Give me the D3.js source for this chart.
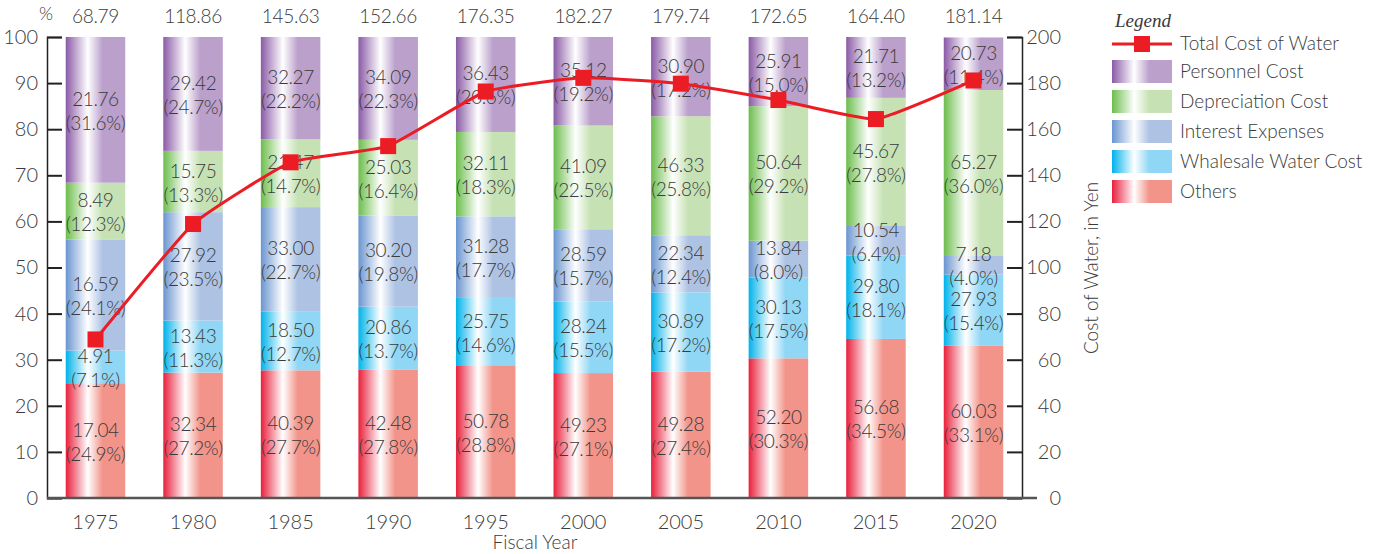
<!DOCTYPE html>
<html>
<head>
<meta charset="utf-8">
<script src="https://cdn.jsdelivr.net/npm/d3@7"></script>
<style>
  body { margin: 0; background: #fff; }
  text { font-family: Lato, "Open Sans", sans-serif; font-weight: 300; fill: #3a3a3a; }
</style>
</head>
<body>
<div id="chart"></div>
<script>
// datos del grafico
var years = ["1975", "1980", "1985", "1990", "1995", "2000", "2005", "2010", "2015", "2020"];
var totalCost = [68.79, 118.86, 145.63, 152.66, 176.35, 182.27, 179.74, 172.65, 164.40, 181.14];
var seriesNames = ["Others", "Whalesale Water Cost", "Interest Expenses", "Depreciation Cost", "Personnel Cost"];
// valores en yen por serie (de abajo hacia arriba)
var othersVal = [17.04, 32.34, 40.39, 42.48, 50.78, 49.23, 49.28, 52.20, 56.68, 60.03];
var wholesaleVal = [4.91, 13.43, 18.50, 20.86, 25.75, 28.24, 30.89, 30.13, 29.80, 27.93];
var interestVal = [16.59, 27.92, 33.00, 30.20, 31.28, 28.59, 22.34, 13.84, 10.54, 7.18];
var deprecVal = [8.49, 15.75, 21.47, 25.03, 32.11, 41.09, 46.33, 50.64, 45.67, 65.27];
var personnelVal = [21.76, 29.42, 32.27, 34.09, 36.43, 35.12, 30.90, 25.91, 21.71, 20.73];
// porcentajes por serie
var othersPct = [24.9, 27.2, 27.7, 27.8, 28.8, 27.1, 27.4, 30.3, 34.5, 33.1];
var wholesalePct = [7.1, 11.3, 12.7, 13.7, 14.6, 15.5, 17.2, 17.5, 18.1, 15.4];
var interestPct = [24.1, 23.5, 22.7, 19.8, 17.7, 15.7, 12.4, 8.0, 6.4, 4.0];
var deprecPct = [12.3, 13.3, 14.7, 16.4, 18.3, 22.5, 25.8, 29.2, 27.8, 36.0];
var personnelPct = [31.6, 24.7, 22.2, 22.3, 20.6, 19.2, 17.2, 15.0, 13.2, 11.4];
var leftTicks = [0, 10, 20, 30, 40, 50, 60, 70, 80, 90, 100];
var rightTicks = [0, 20, 40, 60, 80, 100, 120, 140, 160, 180, 200];

var valores = [othersVal, wholesaleVal, interestVal, deprecVal, personnelVal];
var porcentajes = [othersPct, wholesalePct, interestPct, deprecPct, personnelPct];
var coloresOscuros = ["#e8203b", "#00b2ea", "#6a95d0", "#6cbd4c", "#8a5aa6"];
var coloresClaros = ["#f2948a", "#90d7f5", "#aec3e4", "#c6e2b4", "#bba0cc"];

var width = 1377, height = 554;
var svg = d3.select("#chart").append("svg")
    .attr("width", width)
    .attr("height", height);

// gradientes horizontales
var defs = svg.append("defs");
seriesNames.forEach(function(n, i) {
    var g = defs.append("linearGradient")
        .attr("id", "grad" + i)
        .attr("x1", "0").attr("x2", "1").attr("y1", "0").attr("y2", "0");
    g.append("stop").attr("offset", "0").attr("stop-color", coloresOscuros[i]);
    g.append("stop").attr("offset", "0.37").attr("stop-color", "#ffffff");
    g.append("stop").attr("offset", "0.62").attr("stop-color", coloresClaros[i]);
    g.append("stop").attr("offset", "1").attr("stop-color", coloresClaros[i]);
});

// escalas
var x = d3.scaleBand()
    .domain(years)
    .range([47, 1022])
    .paddingInner(0.39)
    .paddingOuter(0.192);

var yPct = d3.scaleLinear().domain([0, 100]).range([498, 37]);
var yYen = d3.scaleLinear().domain([0, 200]).range([498, 37]);

// pila de datos
var filas = years.map(function(y, j) {
    var acc = 0;
    return seriesNames.map(function(n, i) {
        var seg = { year: y, serie: i, y0: acc, y1: acc + porcentajes[i][j], val: valores[i][j], pct: porcentajes[i][j] };
        acc += porcentajes[i][j];
        return seg;
    });
});
var segmentos = [].concat.apply([], filas);

// barras
svg.selectAll("rect.seg").data(segmentos).enter()
    .append("rect")
    .attr("class", "seg")
    .attr("x", d => x(d.year))
    .attr("width", x.bandwidth())
    .attr("y", d => yPct(Math.min(d.y1, 100)))
    .attr("height", d => yPct(d.y0) - yPct(Math.min(d.y1, 100)))
    .attr("fill", d => "url(#grad" + d.serie + ")");

// etiquetas de segmento
var etiquetas = svg.selectAll("g.lbl").data(segmentos).enter()
    .append("g")
    .attr("class", "lbl")
    .attr("transform", d => "translate(" + (x(d.year) + x.bandwidth() / 2) + "," + yPct((d.y0 + d.y1) / 2) + ")");
etiquetas.append("text")
    .attr("text-anchor", "middle")
    .attr("y", -4)
    .style("font-size", "19px")
    .style("letter-spacing", "-0.4px")
    .text(d => d.val.toFixed(2));
etiquetas.append("text")
    .attr("text-anchor", "middle")
    .attr("y", 20)
    .style("font-size", "19px")
    .style("letter-spacing", "-0.4px")
    .text(d => "(" + d.pct.toFixed(1) + "%)");

// totales arriba
svg.selectAll("text.total").data(years).enter()
    .append("text")
    .attr("class", "total")
    .attr("x", d => x(d) + x.bandwidth() / 2)
    .attr("y", 23)
    .attr("text-anchor", "middle")
    .style("font-size", "19px")
    .style("letter-spacing", "-0.3px")
    .text((d, i) => totalCost[i].toFixed(2));

svg.append("text")
    .attr("x", 46)
    .attr("y", 20)
    .attr("text-anchor", "middle")
    .style("font-size", "18px")
    .text("%");

// eje izquierdo
var ejeIzq = svg.append("g")
    .attr("transform", "translate(47,0)")
    .call(d3.axisRight(yPct).tickValues(leftTicks).tickSize(15).tickFormat(d3.format("d")));
ejeIzq.select(".domain").attr("stroke", "#222").attr("stroke-width", 1.5);
ejeIzq.selectAll(".tick line").attr("stroke", "#222").attr("stroke-width", 2);
ejeIzq.selectAll(".tick text")
    .attr("x", -9)
    .attr("text-anchor", "end")
    .style("font-size", "20px")
    .style("font-family", "Lato, sans-serif")
    .attr("fill", "#3a3a3a");

// eje derecho
var ejeDer = svg.append("g")
    .attr("transform", "translate(1022,0)")
    .call(d3.axisLeft(yYen).tickValues(rightTicks).tickSize(15).tickFormat(d3.format("d")));
ejeDer.select(".domain").attr("stroke", "#222").attr("stroke-width", 1.5);
ejeDer.selectAll(".tick line").attr("stroke", "#222").attr("stroke-width", 2);
ejeDer.selectAll(".tick text")
    .attr("x", 39)
    .attr("text-anchor", "end")
    .style("font-size", "20px")
    .style("font-family", "Lato, sans-serif")
    .attr("fill", "#3a3a3a");

// linea base
svg.append("line")
    .attr("x1", 47).attr("x2", 1037)
    .attr("y1", yPct(0)).attr("y2", yPct(0))
    .attr("stroke", "#555")
    .attr("stroke-width", 2.5);

// eje x etiquetas
svg.selectAll("text.year").data(years).enter()
    .append("text")
    .attr("class", "year")
    .attr("x", d => x(d) + x.bandwidth() / 2)
    .attr("y", 529)
    .attr("text-anchor", "middle")
    .style("font-size", "20px")
    .text(d => d);

svg.append("text")
    .attr("x", 535)
    .attr("y", 549)
    .attr("text-anchor", "middle")
    .style("font-size", "19px")
    .text("Fiscal Year");

svg.append("text")
    .attr("transform", "translate(1098,268) rotate(-90)")
    .attr("text-anchor", "middle")
    .style("font-size", "19px")
    .text("Cost of Water, in Yen");

// linea del costo total
var linea = d3.line()
    .x((d, i) => x(years[i]) + x.bandwidth() / 2)
    .y(d => yYen(d))
    .curve(d3.curveCardinal.tension(0.6));

svg.append("path")
    .datum(totalCost)
    .attr("fill", "none")
    .attr("stroke", "#ec1c24")
    .attr("stroke-width", 3)
    .attr("d", linea);

svg.selectAll("rect.mark").data(totalCost).enter()
    .append("rect")
    .attr("class", "mark")
    .attr("x", (d, i) => x(years[i]) + x.bandwidth() / 2 - 8)
    .attr("y", d => yYen(d) - 8)
    .attr("width", 16)
    .attr("height", 16)
    .attr("fill", "#ec1c24");

// leyenda
var leyenda = svg.append("g").attr("transform", "translate(1112,0)");
leyenda.append("text")
    .attr("x", 3)
    .attr("y", 27)
    .style("font-family", "'Liberation Serif', 'DejaVu Serif', serif")
    .style("font-style", "italic")
    .style("font-weight", "400")
    .style("font-size", "19px")
    .text("Legend");

leyenda.append("line")
    .attr("x1", 0).attr("x2", 60)
    .attr("y1", 44).attr("y2", 44)
    .attr("stroke", "#ec1c24")
    .attr("stroke-width", 3);
leyenda.append("rect")
    .attr("x", 22).attr("y", 36)
    .attr("width", 16).attr("height", 16)
    .attr("fill", "#ec1c24");
leyenda.append("text")
    .attr("x", 68).attr("y", 50)
    .style("font-size", "19px")
    .text("Total Cost of Water");

var ordenLeyenda = [4, 3, 2, 1, 0];
ordenLeyenda.forEach(function(s, k) {
    var yy = 60 + k * 30;
    leyenda.append("rect")
        .attr("x", 0).attr("y", yy)
        .attr("width", 60).attr("height", 23)
        .attr("fill", "url(#grad" + s + ")");
    leyenda.append("text")
        .attr("x", 68).attr("y", yy + 18)
        .style("font-size", "19px")
        .text(seriesNames[s]);
});
</script>
</body>
</html>
